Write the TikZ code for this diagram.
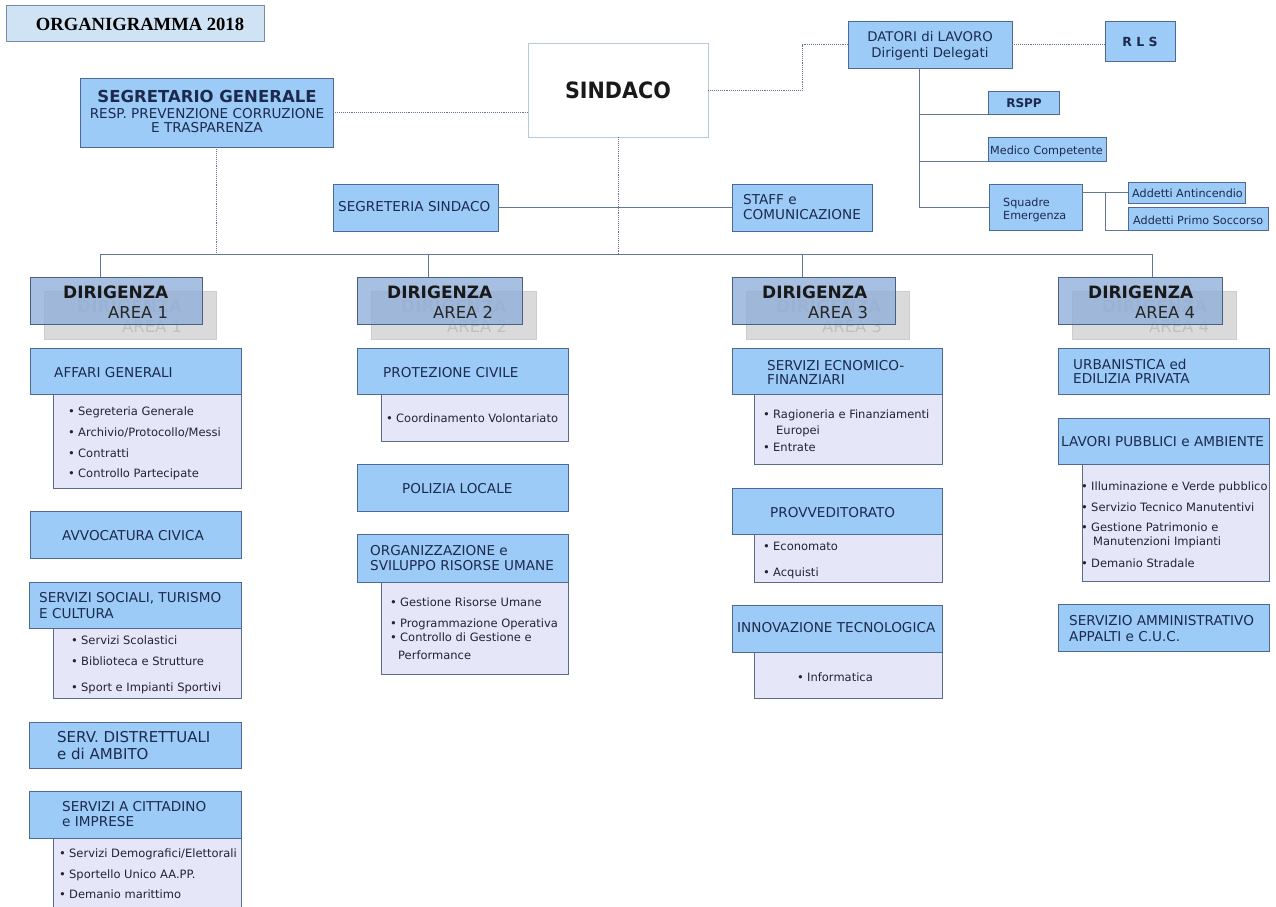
\documentclass[tikz,border=0pt]{standalone}
\usepackage{fontspec}
\setmainfont{DejaVu Sans}
\newfontfamily\timesf{Liberation Serif}
\newfontfamily\sindf[FakeStretch=0.92]{DejaVu Sans}
\usetikzlibrary{fit}
\definecolor{hdrF}{RGB}{157,203,247}
\definecolor{hdrB}{RGB}{78,105,148}
\definecolor{hdrT}{RGB}{28,42,78}
\definecolor{subF}{RGB}{230,230,249}
\definecolor{subB}{RGB}{92,106,140}
\definecolor{itT}{RGB}{35,35,50}
\definecolor{titF}{RGB}{208,227,244}
\definecolor{titB}{RGB}{120,140,166}
\definecolor{sinB}{RGB}{185,200,225}
\definecolor{dirF}{RGB}{145,176,218}
\definecolor{dirB}{RGB}{72,96,132}
\definecolor{ghF}{RGB}{218,218,218}
\definecolor{ghB}{RGB}{204,204,204}
\definecolor{ghT}{RGB}{192,192,192}
\definecolor{lnC}{RGB}{100,118,148}
\newcounter{tcnt}
\newcommand\tx[4]{\stepcounter{tcnt}\node[#1] (t\arabic{tcnt}) at (#2,#3) {#4};}
\newcommand\bx[6]{\node[#1, fit={(#3,#4) (#5,#6)}] (#2) {};}
\newcommand\bul[1]{\makebox[10pt][l]{•}#1}
\begin{document}
\begin{tikzpicture}[x=1pt,y=-1pt,
  hbox/.style={draw=hdrB, fill=hdrF, line width=0.9pt, inner sep=0pt},
  sbox/.style={draw=subB, fill=subF, line width=0.9pt, inner sep=0pt},
  tbox/.style={draw=titB, fill=titF, line width=1pt, inner sep=0pt},
  wbox/.style={draw=sinB, fill=white, line width=0.8pt, inner sep=0pt},
  dbox/.style={draw=dirB, fill=dirF, fill opacity=0.8, line width=1pt, inner sep=0pt},
  gbox/.style={draw=ghB, fill=ghF, line width=1pt, inner sep=0pt},
  htx/.style={anchor=base west, yshift=-4.9pt, inner sep=0pt, text=hdrT, font=\fontsize{13.6}{15}\selectfont},
  hctx/.style={htx, anchor=base},
  stx/.style={anchor=base west, yshift=-4pt, inner sep=0pt, text=hdrT, font=\fontsize{11.2}{13}\selectfont},
  sctx/.style={stx, anchor=base, yshift=-0.5pt},
  itx/.style={anchor=base west, yshift=-4.1pt, inner sep=0pt, text=itT, font=\fontsize{11.5}{13}\selectfont},
  dirtx/.style={anchor=base west, yshift=-6.2pt, inner sep=0pt, text=black!90, font=\bfseries\fontsize{17}{19}\selectfont},
  areatx/.style={anchor=base west, yshift=-6pt, inner sep=0pt, text=black!85, font=\fontsize{16.4}{18}\selectfont},
  gdirtx/.style={dirtx, text=ghT},
  gareatx/.style={areatx, text=ghT},
  lnk/.style={draw=lnC, line width=0.9pt},
  dlnk/.style={draw=lnC, line width=0.9pt, densely dotted}]
\useasboundingbox (0,0) rectangle (1276,906);

% title
\bx{tbox}{title}{6}{5}{264}{41}
\tx{anchor=base, yshift=-6.1pt, inner sep=0pt, font=\timesf\bfseries\fontsize{18.6}{20}\selectfont}{140}{24}{ORGANIGRAMMA 2018}

% segretario
\bx{hbox}{segr}{80}{78}{333}{147}
\tx{hctx, yshift=-1pt, font=\bfseries\fontsize{16.5}{18}\selectfont}{207}{97}{SEGRETARIO GENERALE}
\tx{hctx}{207}{114}{RESP. PREVENZIONE CORRUZIONE}
\tx{hctx}{207}{128}{E TRASPARENZA}

% sindaco
\bx{wbox}{sind}{528}{43}{708}{137}
\tx{anchor=base, yshift=-8.2pt, inner sep=0pt, text=black!90, font=\sindf\bfseries\fontsize{22.5}{24}\selectfont}{618}{90}{SINDACO}

% datori cluster
\bx{hbox}{dat}{848}{21}{1012}{68}
\tx{hctx, font=\fontsize{13.3}{15}\selectfont}{930}{37}{DATORI di LAVORO}
\tx{hctx, font=\fontsize{13.3}{15}\selectfont}{930}{53}{Dirigenti Delegati}
\bx{hbox}{rls}{1105}{21}{1175}{61}
\tx{sctx, font=\bfseries\fontsize{12.5}{14}\selectfont}{1140}{42}{R L S}
\bx{hbox}{rspp}{988}{91}{1059}{114}
\tx{sctx, font=\bfseries\fontsize{12}{14}\selectfont}{1024}{103}{RSPP}
\bx{hbox}{med}{988}{137}{1106}{161}
\tx{stx}{990}{150}{Medico Competente}
\bx{hbox}{squ}{989}{184}{1082}{230}
\tx{stx}{1003}{202}{Squadre}
\tx{stx}{1003}{215}{Emergenza}
\bx{hbox}{ant}{1128}{182}{1245}{203}
\tx{stx}{1132}{193}{Addetti Antincendio}
\bx{hbox}{aps}{1128}{207}{1268}{230}
\tx{stx}{1133}{220}{Addetti Primo Soccorso}

% segreteria / staff
\bx{hbox}{ssin}{333}{184}{498}{231}
\tx{htx}{338}{207}{SEGRETERIA SINDACO}
\bx{hbox}{staff}{732}{184}{872}{231}
\tx{htx}{743}{200}{STAFF e}
\tx{htx}{743}{215}{COMUNICAZIONE}

% connectors top
\draw[dlnk] (segr.east) -- (segr.east -| sind.west);
\draw[dlnk] (sind.east) -- ++(94,0) |- (dat.west);
\draw[dlnk] (dat.east) -- (dat.east -| rls.west);
\draw[lnk] ([xshift=-11pt]dat.south) |- (squ.west);
\draw[lnk] ([xshift=-11pt]dat.south) |- (rspp.south west);
\draw[lnk] ([xshift=-11pt]dat.south) |- (med.south west);
\draw[lnk] (squ.east |- ant.west) -- (ant.west);
\draw[lnk] (ant.west) ++(-22,0) |- (aps.south west);
\draw[lnk] (ssin.east) -- (staff.west);

\coordinate (busL) at (100,254);
\coordinate (busR) at (1152,254);
\coordinate (b2) at (428,254);
\coordinate (b3) at (802,254);
\draw[dlnk] (sind.south) -- (sind.south |- busL);
\draw[dlnk] ([xshift=10pt]segr.south) -- ([xshift=10pt]segr.south |- busL);
\draw[lnk] (busL) -- (busR);

% DIRIGENZA boxes
\bx{gbox}{g1}{44}{291}{216}{339}
\tx{gdirtx}{77}{306}{DIRIGENZA}
\tx{gareatx}{122}{326}{AREA 1}
\bx{dbox}{d1}{30}{277}{202}{324}
\tx{dirtx}{63}{292}{DIRIGENZA}
\tx{areatx}{108}{312}{AREA 1}

\bx{gbox}{g2}{371}{291}{536}{339}
\tx{gdirtx}{401}{306}{DIRIGENZA}
\tx{gareatx}{447}{326}{AREA 2}
\bx{dbox}{d2}{357}{277}{522}{324}
\tx{dirtx}{387}{292}{DIRIGENZA}
\tx{areatx}{433}{312}{AREA 2}

\bx{gbox}{g3}{746}{291}{909}{339}
\tx{gdirtx}{776}{306}{DIRIGENZA}
\tx{gareatx}{822}{326}{AREA 3}
\bx{dbox}{d3}{732}{277}{895}{324}
\tx{dirtx}{762}{292}{DIRIGENZA}
\tx{areatx}{808}{312}{AREA 3}

\bx{gbox}{g4}{1072}{291}{1236}{339}
\tx{gdirtx}{1102}{306}{DIRIGENZA}
\tx{gareatx}{1149}{326}{AREA 4}
\bx{dbox}{d4}{1058}{277}{1222}{324}
\tx{dirtx}{1088}{292}{DIRIGENZA}
\tx{areatx}{1135}{312}{AREA 4}

\draw[lnk] (busL) -- (busL |- d1.north);
\draw[lnk] (b2) -- (b2 |- d2.north);
\draw[lnk] (b3) -- (b3 |- d3.north);
\draw[lnk] (busR) -- (busR |- d4.north);

% AREA 1 column
\bx{sbox}{s11}{53}{394}{241}{488}
\bx{hbox}{h11}{30}{348}{241}{394}
\tx{htx}{54}{373}{AFFARI GENERALI}
\tx{itx}{68}{411}{\bul{Segreteria Generale}}
\tx{itx}{68}{432}{\bul{Archivio/Protocollo/Messi}}
\tx{itx}{68}{453}{\bul{Contratti}}
\tx{itx}{68}{473}{\bul{Controllo Partecipate}}

\bx{hbox}{h12}{30}{511}{241}{558}
\tx{htx}{62}{536}{AVVOCATURA CIVICA}

\bx{sbox}{s13}{53}{628}{241}{698}
\bx{hbox}{h13}{29}{582}{241}{628}
\tx{htx}{39}{598}{SERVIZI SOCIALI, TURISMO}
\tx{htx}{39}{614}{E CULTURA}
\tx{itx}{71}{640}{\bul{Servizi Scolastici}}
\tx{itx}{71}{661}{\bul{Biblioteca e Strutture}}
\tx{itx}{71}{687}{\bul{Sport e Impianti Sportivi}}

\bx{hbox}{h14}{29}{722}{241}{768}
\tx{htx, yshift=-0.6pt, font=\fontsize{15}{17}\selectfont}{57}{737}{SERV. DISTRETTUALI}
\tx{htx, yshift=-0.6pt, font=\fontsize{15}{17}\selectfont}{57}{754}{e di AMBITO}

\bx{sbox}{s15}{53}{838}{241}{915}
\bx{hbox}{h15}{29}{791}{241}{838}
\tx{htx}{62}{807}{SERVIZI A CITTADINO}
\tx{htx}{62}{822}{e IMPRESE}
\tx{itx}{59}{853}{\bul{Servizi Demografici/Elettorali}}
\tx{itx}{59}{874}{\bul{Sportello Unico AA.PP.}}
\tx{itx}{59}{894}{\bul{Demanio marittimo}}

% AREA 2 column
\bx{sbox}{s21}{381}{394}{568}{441}
\bx{hbox}{h21}{357}{348}{568}{394}
\tx{htx}{383}{373}{PROTEZIONE CIVILE}
\tx{itx}{386}{418}{\bul{Coordinamento Volontariato}}

\bx{hbox}{h22}{357}{464}{568}{511}
\tx{htx}{402}{489}{POLIZIA LOCALE}

\bx{sbox}{s23}{381}{582}{568}{674}
\bx{hbox}{h23}{357}{534}{568}{582}
\tx{htx}{370}{551}{ORGANIZZAZIONE e}
\tx{htx}{370}{566}{SVILUPPO RISORSE UMANE}
\tx{itx}{390}{602}{\bul{Gestione Risorse Umane}}
\tx{itx}{390}{623}{\bul{Programmazione Operativa}}
\tx{itx}{390}{637}{\bul{Controllo di Gestione e}}
\tx{itx}{398}{655}{Performance}

% AREA 3 column
\bx{sbox}{s31}{754}{394}{942}{464}
\bx{hbox}{h31}{732}{348}{942}{394}
\tx{htx}{767}{366}{SERVIZI ECNOMICO-}
\tx{htx}{767}{380}{FINANZIARI}
\tx{itx}{763}{414}{\bul{Ragioneria e Finanziamenti}}
\tx{itx}{776}{430}{Europei}
\tx{itx}{763}{447}{\bul{Entrate}}

\bx{sbox}{s32}{754}{534}{942}{582}
\bx{hbox}{h32}{732}{488}{942}{534}
\tx{htx}{770}{513}{PROVVEDITORATO}
\tx{itx}{763}{546}{\bul{Economato}}
\tx{itx}{763}{572}{\bul{Acquisti}}

\bx{sbox}{s33}{754}{652}{942}{698}
\bx{hbox}{h33}{732}{605}{942}{652}
\tx{htx}{737}{628}{INNOVAZIONE TECNOLOGICA}
\tx{itx}{797}{677}{\bul{Informatica}}

% AREA 4 column
\bx{hbox}{h41}{1058}{348}{1269}{394}
\tx{htx}{1073}{365}{URBANISTICA ed}
\tx{htx}{1073}{379}{EDILIZIA PRIVATA}

\bx{sbox}{s42}{1082}{464}{1269}{581}
\bx{hbox}{h42}{1058}{418}{1269}{464}
\tx{htx}{1061}{442}{LAVORI PUBBLICI e AMBIENTE}
\tx{itx}{1081}{486}{\bul{Illuminazione e Verde pubblico}}
\tx{itx}{1081}{507}{\bul{Servizio Tecnico Manutentivi}}
\tx{itx}{1081}{527}{\bul{Gestione Patrimonio e}}
\tx{itx}{1093}{541}{Manutenzioni Impianti}
\tx{itx}{1081}{563}{\bul{Demanio Stradale}}

\bx{hbox}{h43}{1058}{604}{1269}{651}
\tx{htx}{1069}{621}{SERVIZIO AMMINISTRATIVO}
\tx{htx}{1069}{637}{APPALTI e C.U.C.}
\end{tikzpicture}
\end{document}
